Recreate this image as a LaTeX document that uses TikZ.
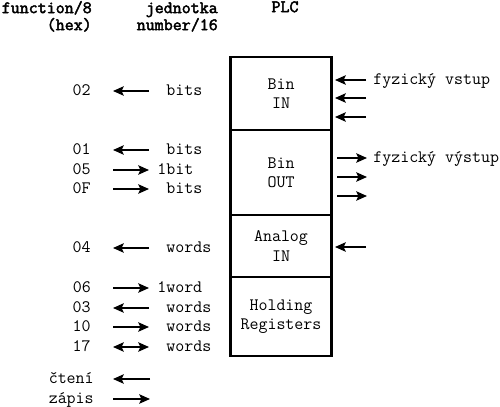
\documentclass[tikz,border=0pt]{standalone}
\usepackage{fontspec}
\setmonofont{Latin Modern Mono}[AutoFakeBold=2.5]
\usetikzlibrary{
    arrows.meta,
    positioning
}

\begin{document}
\begin{tikzpicture}[
    x=0.75pt,
    y=-0.75pt,
    node distance=0pt,
%
    lbl/.style={
        font=\ttfamily\fontsize{13.1}{14}\selectfont,
        inner sep=0pt,
        text height=0.62em,
        text depth=0pt
    },
%
    code/.style={lbl, anchor=east},
    qty/.style={lbl, anchor=west},
    head/.style={
        lbl,
        font=\ttfamily\bfseries\fontsize{13.1}{14}\selectfont
    },
%
    reg/.style={
        draw,
        line width=1.8pt,
        minimum width=76pt,
        inner sep=0pt,
        outer sep=0pt,
        align=center,
        font=\ttfamily\fontsize{13.1}{14.5}\selectfont
    },
%
    arrow/.style={
        -{Stealth[length=8pt,width=7pt,inset=1.5pt]},
        line width=1.5pt
    },
    both/.style={
        {Stealth[length=8pt,width=7pt,inset=1.5pt]}-{Stealth[length=8pt,width=7pt,inset=1.5pt]},
        line width=1.5pt
    },
    rd/.style={arrow, shorten <=12.75pt, shorten >=16.5pt},
    wr/.style={arrow, shorten <=16.5pt, shorten >=12.75pt},
    wrone/.style={arrow, shorten <=16.5pt, shorten >=6pt}
]
\useasboundingbox (0,0) rectangle (500,407);
%
% Column headings.
%
\node[head, anchor=east] (fnhead) at (92,9) {function/8};
\node[head, anchor=east] (fnhex) at (92,26) {(hex)};
\node[head, anchor=east] (unithead) at (218,9) {jednotka};
\node[head, anchor=east] (unitnum) at (218,26) {number/16};
\node[head] (plchead) at (285,8) {PLC};
%
% The PLC memory areas, stacked.
%
\node[reg, minimum height=54.75pt, anchor=north] (binin) at (281,57) {Bin\\IN};
\node[reg, minimum height=63.75pt, below=of binin] (binout) {Bin\\OUT};
\node[reg, minimum height=46.5pt, below=of binout] (anain) {Analog\\IN};
\node[reg, minimum height=59.25pt, below=of anain] (holdreg) {Holding\\Registers};
%
% Physical inputs and outputs.
%
\coordinate (vin1) at (366,80);
\coordinate (vin2) at (366,98);
\coordinate (vin3) at (366,117);
\draw[arrow, shorten >=2.5pt] (vin1) -- (vin1 -| binin.east);
\draw[arrow, shorten >=2.5pt] (vin2) -- (vin2 -| binin.east);
\draw[arrow, shorten >=2.5pt] (vin3) -- (vin3 -| binin.east);
\node[qty] (physin) at (373,80) {fyzický vstup};
%
\coordinate (vout1) at (367,158);
\coordinate (vout2) at (367,177);
\coordinate (vout3) at (367,196);
\draw[arrow, shorten <=4pt] (vout1 -| binout.east) -- (vout1);
\draw[arrow, shorten <=4pt] (vout2 -| binout.east) -- (vout2);
\draw[arrow, shorten <=4pt] (vout3 -| binout.east) -- (vout3);
\node[qty] (physout) at (373,158) {fyzický výstup};
%
\coordinate (ain) at (366,247);
\draw[arrow, shorten >=2.5pt] (ain) -- (ain -| anain.east);
%
% Function codes and the quantity they move.
%
\node[code] (f02) at (91,91) {02};
\node[qty] (q02) at (166,91) {bits};
\draw[rd] (q02.west) -- (f02.east);
%
\node[code] (f01) at (91,150) {01};
\node[qty] (q01) at (166,150) {bits};
\draw[rd] (q01.west) -- (f01.east);
\node[code] (f05) at (91,170) {05};
\node[qty] (q05) at (157,170) {1bit};
\draw[wrone] (f05.east) -- (q05.west);
\node[code] (f0F) at (91,189) {0F};
\node[qty] (q0F) at (166,189) {bits};
\draw[wr] (f0F.east) -- (q0F.west);
%
\node[code] (f04) at (91,248) {04};
\node[qty] (q04) at (166,248) {words};
\draw[rd] (q04.west) -- (f04.east);
%
\node[code] (f06) at (91,288) {06};
\node[qty] (q06) at (157,288) {1word};
\draw[wrone] (f06.east) -- (q06.west);
\node[code] (f03) at (91,308) {03};
\node[qty] (q03) at (166,308) {words};
\draw[rd] (q03.west) -- (f03.east);
\node[code] (f10) at (91,327) {10};
\node[qty] (q10) at (166,327) {words};
\draw[wr] (f10.east) -- (q10.west);
\node[code] (f17) at (91,347) {17};
\node[qty] (q17) at (166,347) {words};
\draw[both, shorten <=16.5pt, shorten >=12.75pt] (f17.east) -- (q17.west);
%
% Key: read and write direction.
%
\node[code] (rdkey) at (94,379) {čtení};
\node[code] (wrkey) at (94,399) {zápis};
\coordinate (rdend) at (150,379);
\coordinate (wrend) at (150,399);
\draw[arrow, shorten >=14.25pt] (rdend) -- (rdkey.east);
\draw[arrow, shorten <=14.25pt] (wrkey.east) -- (wrend);
%
\end{tikzpicture}
\end{document}
